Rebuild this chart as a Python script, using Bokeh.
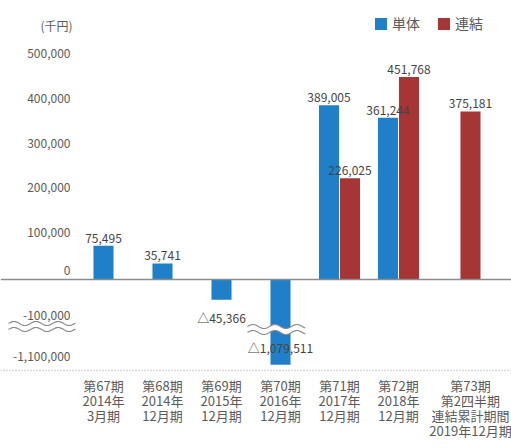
import numpy as np
from bokeh.plotting import figure
from bokeh.models import Range1d, Span, Legend, LegendItem
from bokeh.core.properties import value
from bokeh.embed import file_html
from bokeh.resources import INLINE

# ---------------- data ----------------
categories = [
    "第67期\n2014年\n3月期",
    "第68期\n2014年\n12月期",
    "第69期\n2015年\n12月期",
    "第70期\n2016年\n12月期",
    "第71期\n2017年\n12月期",
    "第72期\n2018年\n12月期",
    "第73期\n第2四半期\n連結累計期間\n2019年12月期",
]
single_values = [75495, 35741, -45366, -1079511, 389005, 361244, None]        # 単体
consolidated_values = [None, None, None, None, 226025, 451768, 375181]       # 連結
series_names = ["単体", "連結"]
y_ticks = [500000, 400000, 300000, 200000, 100000, 0, -100000, -1100000]
y_tick_labels = ["500,000", "400,000", "300,000", "200,000", "100,000", "0",
                 "-100,000", "-1,100,000"]
unit_label = "(千円)"

# ---------------- styling ----------------
BLUE = "#1f80c9"
RED = "#a83535"
TICK_COLOR = "#5a5a5a"
VAL_COLOR = "#444444"
FONT = "Noto Sans CJK JP"
W, H = 511, 448

# broken axis: below BREAK the scale is compressed
BREAK = -100000
K = 0.092


def disp(v):
    return v if v >= BREAK else BREAK + (v - BREAK) * K


px_per_unit = 44.8 / 100000.0  # vertical pixels per data unit
ZERO_ROW = 279
CAT_PX = 59.0
LAST_GAP = 0.22   # extra gap before the (quarterly) last category


def py(row):
    """data value at a given pixel row of the figure"""
    return -(row - ZERO_ROW) / px_per_unit


y_top = py(0)
y_bot = py(H)
y_axis_line = py(370)

x0 = -103 / CAT_PX
x1 = x0 + W / CAT_PX

# category positions (index, with a little extra room before the last one)
cat_x = [i + (LAST_GAP if i == len(categories) - 1 else 0.0) for i in range(len(categories))]

p = figure(width=W, height=H, output_backend="svg", toolbar_location=None,
           x_range=Range1d(x0, x1), y_range=Range1d(y_bot, y_top),
           min_border_left=0, min_border_right=0, min_border_top=0,
           min_border_bottom=0, y_axis_location=None, x_axis_location=None)
p.outline_line_color = None
p.grid.visible = False
p.background_fill_color = "white"
p.border_fill_color = "white"

# dotted baseline and zero line
p.add_layout(Span(location=y_axis_line, dimension="width", line_color="#b5b5b5",
                  line_dash="1 2", line_width=1.5))
p.add_layout(Span(location=0, dimension="width", line_color="#8c8c8c", line_width=1.5))

# category labels, one text row per line
rows = {}
for xc, c in zip(cat_x, categories):
    for k, part in enumerate(c.split("\n")):
        rows.setdefault(k, ([], []))
        rows[k][0].append(xc)
        rows[k][1].append(part)
for k, (xi, tx) in rows.items():
    p.text(xi, [y_axis_line] * len(xi), text=tx,
           text_font=value(FONT), text_font_size="13px", text_color=TICK_COLOR,
           text_align="center", text_baseline="middle", y_offset=15 + 15 * k)

# bars
bw = 0.34
off = 0.178
sx, sy = [], []
cx, cy = [], []
for xc, a, b in zip(cat_x, single_values, consolidated_values):
    both = a is not None and b is not None
    if a is not None:
        sx.append(xc - off if both else xc)
        sy.append(disp(a))
    if b is not None:
        cx.append(xc + off if both else xc)
        cy.append(disp(b))

r1 = p.vbar(x=sx, top=sy, bottom=0, width=bw, fill_color=BLUE, line_color=None)
r2 = p.vbar(x=cx, top=cy, bottom=0, width=bw, fill_color=RED, line_color=None)

# break marks (wavy lines)
wave_amp = 2.0 / px_per_unit
gap = 3.0 / px_per_unit


def wave(xa, xb, yc, period_px=22.0):
    xs = np.linspace(xa, xb, 80)
    ph = (xs - xa) * CAT_PX / period_px * 2 * np.pi
    return xs, yc + wave_amp * np.sin(ph)


yc_axis = py(326)
xs, ys = wave(x0 + 8 / CAT_PX, x0 + 75 / CAT_PX, yc_axis)
p.line(xs, ys + gap, line_color="#8a8a8a", line_width=1.2)
p.line(xs, ys - gap, line_color="#8a8a8a", line_width=1.2)

yc_bar = py(329)
for xc, v in zip(cat_x, single_values):
    if v is not None and v < BREAK:
        xs, ys = wave(xc - 0.56, xc + 0.42, yc_bar)
        p.varea(x=xs, y1=ys - gap, y2=ys + gap, fill_color="white")
        p.line(xs, ys + gap, line_color="#8a8a8a", line_width=1.2)
        p.line(xs, ys - gap, line_color="#8a8a8a", line_width=1.2)

# value labels
pos_x, pos_y, pos_t = [], [], []
neg_x, neg_y, neg_t = [], [], []
brk_x, brk_y, brk_t = [], [], []
for xs_, vals in ((sx, [v for v in single_values if v is not None]),
                  (cx, [v for v in consolidated_values if v is not None])):
    for xx, v in zip(xs_, vals):
        if v >= 0:
            pos_x.append(xx); pos_y.append(disp(v)); pos_t.append(f"{v:,}")
        elif v >= BREAK:
            neg_x.append(xx); neg_y.append(disp(v)); neg_t.append(f"△{abs(v):,}")
        else:
            brk_x.append(xx); brk_y.append((disp(v) + yc_bar) / 2); brk_t.append(f"△{abs(v):,}")

common = dict(text_font=value(FONT), text_font_size="12px", text_color=VAL_COLOR,
              text_align="center")
p.text(pos_x, pos_y, text=pos_t, text_baseline="bottom", y_offset=-3, **common)
p.text(neg_x, neg_y, text=neg_t, text_baseline="top", y_offset=9, **common)
p.text(brk_x, brk_y, text=brk_t, text_baseline="middle", **common)

# y tick labels (drawn in the label column, left of the bars)
lab_x = x0 + 70 / CAT_PX
tp = [(disp(t), l) for t, l in zip(y_ticks, y_tick_labels) if t > 0]
tn = [(disp(t), l) for t, l in zip(y_ticks, y_tick_labels) if t <= 0]
tick_style = dict(text_font=value(FONT), text_font_size="12px", text_color=TICK_COLOR,
                  text_align="right", text_baseline="middle")
p.text([lab_x] * len(tp), [a for a, _ in tp], text=[b for _, b in tp], y_offset=-2,
       **tick_style)
p.text([lab_x] * len(tn), [a for a, _ in tn], text=[b for _, b in tn], y_offset=-9,
       **tick_style)
p.text([lab_x + 2 / CAT_PX], [py(25)], text=[unit_label], **tick_style)

# legend
legend = Legend(items=[LegendItem(label=series_names[0], renderers=[r1]),
                       LegendItem(label=series_names[1], renderers=[r2])],
                orientation="horizontal", location=(373, H - 33),
                glyph_width=15, glyph_height=15, label_height=15,
                label_standoff=4, spacing=16, padding=0, margin=0,
                border_line_alpha=0, background_fill_alpha=0,
                label_text_font=FONT, label_text_font_size="14px",
                label_text_color=TICK_COLOR)
p.add_layout(legend)

open("out.html", "w").write(file_html(p, INLINE))
